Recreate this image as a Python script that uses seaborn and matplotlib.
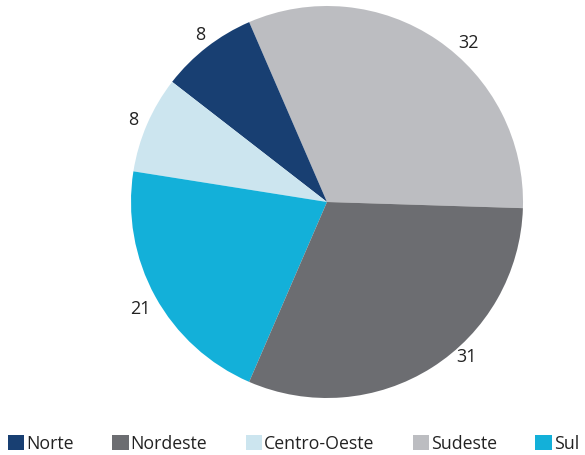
import matplotlib
matplotlib.use("Agg")
import numpy as np
import matplotlib.pyplot as plt
import matplotlib.patches as mpatches
import seaborn as sns

# Data (legend order)
categories = ["Norte", "Nordeste", "Centro-Oeste", "Sudeste", "Sul"]
values = [8, 31, 8, 32, 21]
colors = ["#183f72", "#6c6d71", "#cce5ef", "#bcbdc1", "#13b0d9"]
# drawing order (counter-clockwise from the right side)
draw_order = ["Sudeste", "Norte", "Centro-Oeste", "Sul", "Nordeste"]
# label placement tweaks (degrees offset from wedge middle, radial distance)
label_shift = {"Sudeste": (-7.4, 1.085), "Norte": (-0.5, 1.07), "Centro-Oeste": (0.4, 1.075),
               "Sul": (1.1, 1.097), "Nordeste": (9.5, 1.062)}

sns.set_theme(style="white")
plt.rcParams["font.family"] = ["Open Sans", "DejaVu Sans"]

W, H = 585, 455
fig = plt.figure(figsize=(W / 100, H / 100), dpi=100)
cx, cy, r = 327, 202, 196
ax = fig.add_axes([(cx - r) / W, (H - cy - r) / H, 2 * r / W, 2 * r / H])

idx = [categories.index(c) for c in draw_order]
vals = [values[i] for i in idx]
cols = [colors[i] for i in idx]

wedges, _ = ax.pie(vals, colors=cols, startangle=-1.8, counterclock=True,
                   wedgeprops=dict(linewidth=0))
for w, name, v in zip(wedges, draw_order, vals):
    off, dist = label_shift[name]
    ang = np.deg2rad((w.theta1 + w.theta2) / 2 + off)
    ax.text(dist * np.cos(ang), dist * np.sin(ang), str(v), ha="center", va="center",
            fontsize=13, color="#222222", clip_on=False)
ax.set_xlim(-1, 1)
ax.set_ylim(-1, 1)
ax.set_aspect("equal")
ax.axis("off")

handles = [mpatches.Patch(facecolor=colors[i], edgecolor="none", label=categories[i])
           for i in range(len(categories))]
fig.legend(handles=handles, loc="lower left", bbox_to_anchor=(8 / W, 2 / H),
           ncol=5, frameon=False, fontsize=12.8, handlelength=0.92, handleheight=0.92,
           handletextpad=0.12, columnspacing=2.15, borderpad=0, borderaxespad=0,
           labelcolor="#222222")

fig.savefig("out.png", dpi=100)
